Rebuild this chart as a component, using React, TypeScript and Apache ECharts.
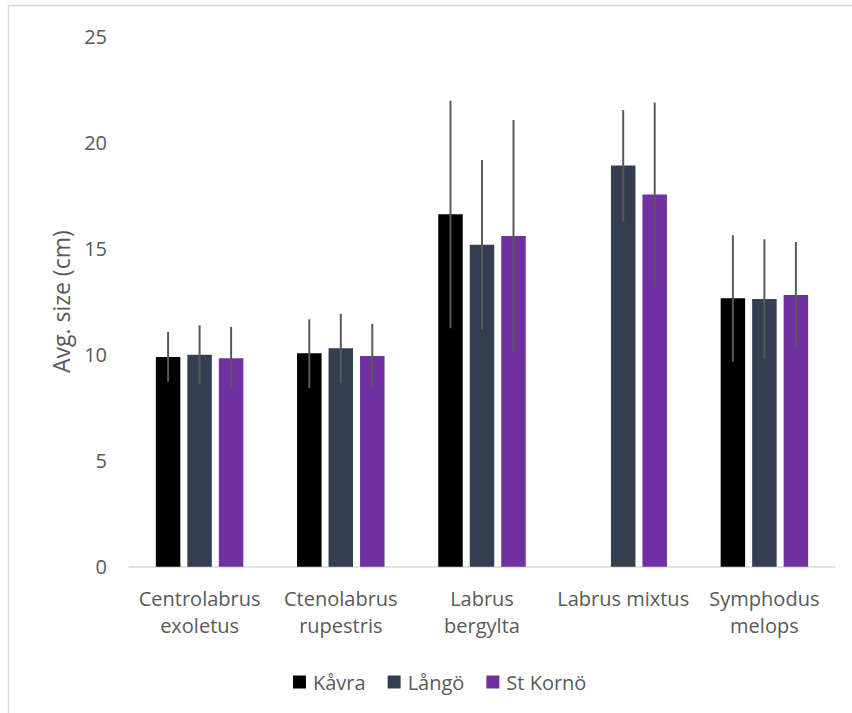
import React, { useEffect, useRef } from "react";
import * as echarts from "echarts";

const categories = [
  "Centrolabrus\nexoletus",
  "Ctenolabrus\nrupestris",
  "Labrus\nbergylta",
  "Labrus mixtus",
  "Symphodus\nmelops",
];
const seriesNames = ["Kåvra", "Långö", "St Kornö"];
const kavra = [9.89, 10.07, 16.62, null, 12.66];
const lango = [10.0, 10.3, 15.19, 18.92, 12.63];
const kornoe = [9.83, 9.94, 15.6, 17.56, 12.82];
const kavraLow = [8.73, 8.43, 11.25, null, 9.67];
const kavraHigh = [11.08, 11.67, 21.98, null, 15.63];
const langoLow = [8.62, 8.65, 11.2, 16.31, 9.83];
const langoHigh = [11.39, 11.93, 19.18, 21.54, 15.44];
const kornoeLow = [8.37, 8.43, 10.14, 13.21, 10.35];
const kornoeHigh = [11.31, 11.46, 21.07, 21.89, 15.32];
const yTicks = { min: 0, max: 25, interval: 5 };

const colors = ["#000000", "#333F50", "#7030A0"];
const BAR_W = 24.5;
const GAP_PX = 7;
const FONT = "'Open Sans', sans-serif";
const TXT = "#595959";

export default function App() {
  const ref = useRef<HTMLDivElement>(null);
  useEffect(() => {
    document.body.style.margin = "0";
    const chart = echarts.init(ref.current!, undefined, { renderer: "svg" });
    const values = [kavra, lango, kornoe];
    const lows = [kavraLow, langoLow, kornoeLow];
    const highs = [kavraHigh, langoHigh, kornoeHigh];

    const barSeries = seriesNames.map((name, i) => ({
      name,
      type: "bar",
      data: values[i],
      barWidth: BAR_W,
      barGap: (GAP_PX / BAR_W) * 100 + "%",
      itemStyle: { color: colors[i] },
      z: 2,
    }));

    const errSeries = seriesNames.map((name, i) => ({
      name: name + " err",
      type: "custom",
      z: 5,
      silent: true,
      data: categories
        .map((_, c) => (lows[i][c] == null ? null : [c, lows[i][c], highs[i][c]]))
        .filter((d) => d !== null),
      renderItem: (params: any, api: any) => {
        const c = api.value(0);
        const lo = api.coord([c, api.value(1)]);
        const hi = api.coord([c, api.value(2)]);
        const x = lo[0] + (i - 1) * (BAR_W + GAP_PX);
        return {
          type: "line",
          shape: { x1: x, y1: lo[1], x2: x, y2: hi[1] },
          style: { stroke: "#595959", lineWidth: 2 },
        };
      },
    }));

    chart.setOption({
      animation: false,
      textStyle: { fontFamily: FONT },
      grid: { left: 129, right: 17, top: 36.7, bottom: 146.3 },
      graphic: [
        {
          type: "rect",
          shape: { x: 8.5, y: 5.5, width: 1000, height: 1000 },
          style: { fill: "none", stroke: "#D9D9D9", lineWidth: 1.5 },
          silent: true,
        },
      ],
      legend: {
        data: seriesNames,
        left: 288,
        top: 667,
        itemWidth: 13,
        itemHeight: 13,
        itemGap: 22,
        icon: "rect",
        textStyle: { fontSize: 20, color: TXT, fontFamily: FONT, padding: [0, 0, 0, 2] },
      },
      xAxis: {
        type: "category",
        data: categories,
        axisLine: { lineStyle: { color: "#D9D9D9", width: 1.5 } },
        axisTick: { show: false },
        axisLabel: {
          fontSize: 20,
          color: TXT,
          fontFamily: FONT,
          lineHeight: 27,
          margin: 18,
          interval: 0,
        },
      },
      yAxis: {
        type: "value",
        min: yTicks.min,
        max: yTicks.max,
        interval: yTicks.interval,
        name: "Avg. size (cm)",
        nameLocation: "middle",
        nameRotate: 90,
        nameGap: 57,
        nameTextStyle: { fontSize: 23, color: TXT, fontFamily: FONT },
        axisLine: { show: false },
        axisTick: { show: false },
        splitLine: { show: false },
        axisLabel: { fontSize: 20, color: TXT, fontFamily: FONT, margin: 22 },
      },
      series: [...barSeries, ...errSeries],
    });
    return () => chart.dispose();
  }, []);
  return <div ref={ref} style={{ width: 852, height: 713 }} />;
}
